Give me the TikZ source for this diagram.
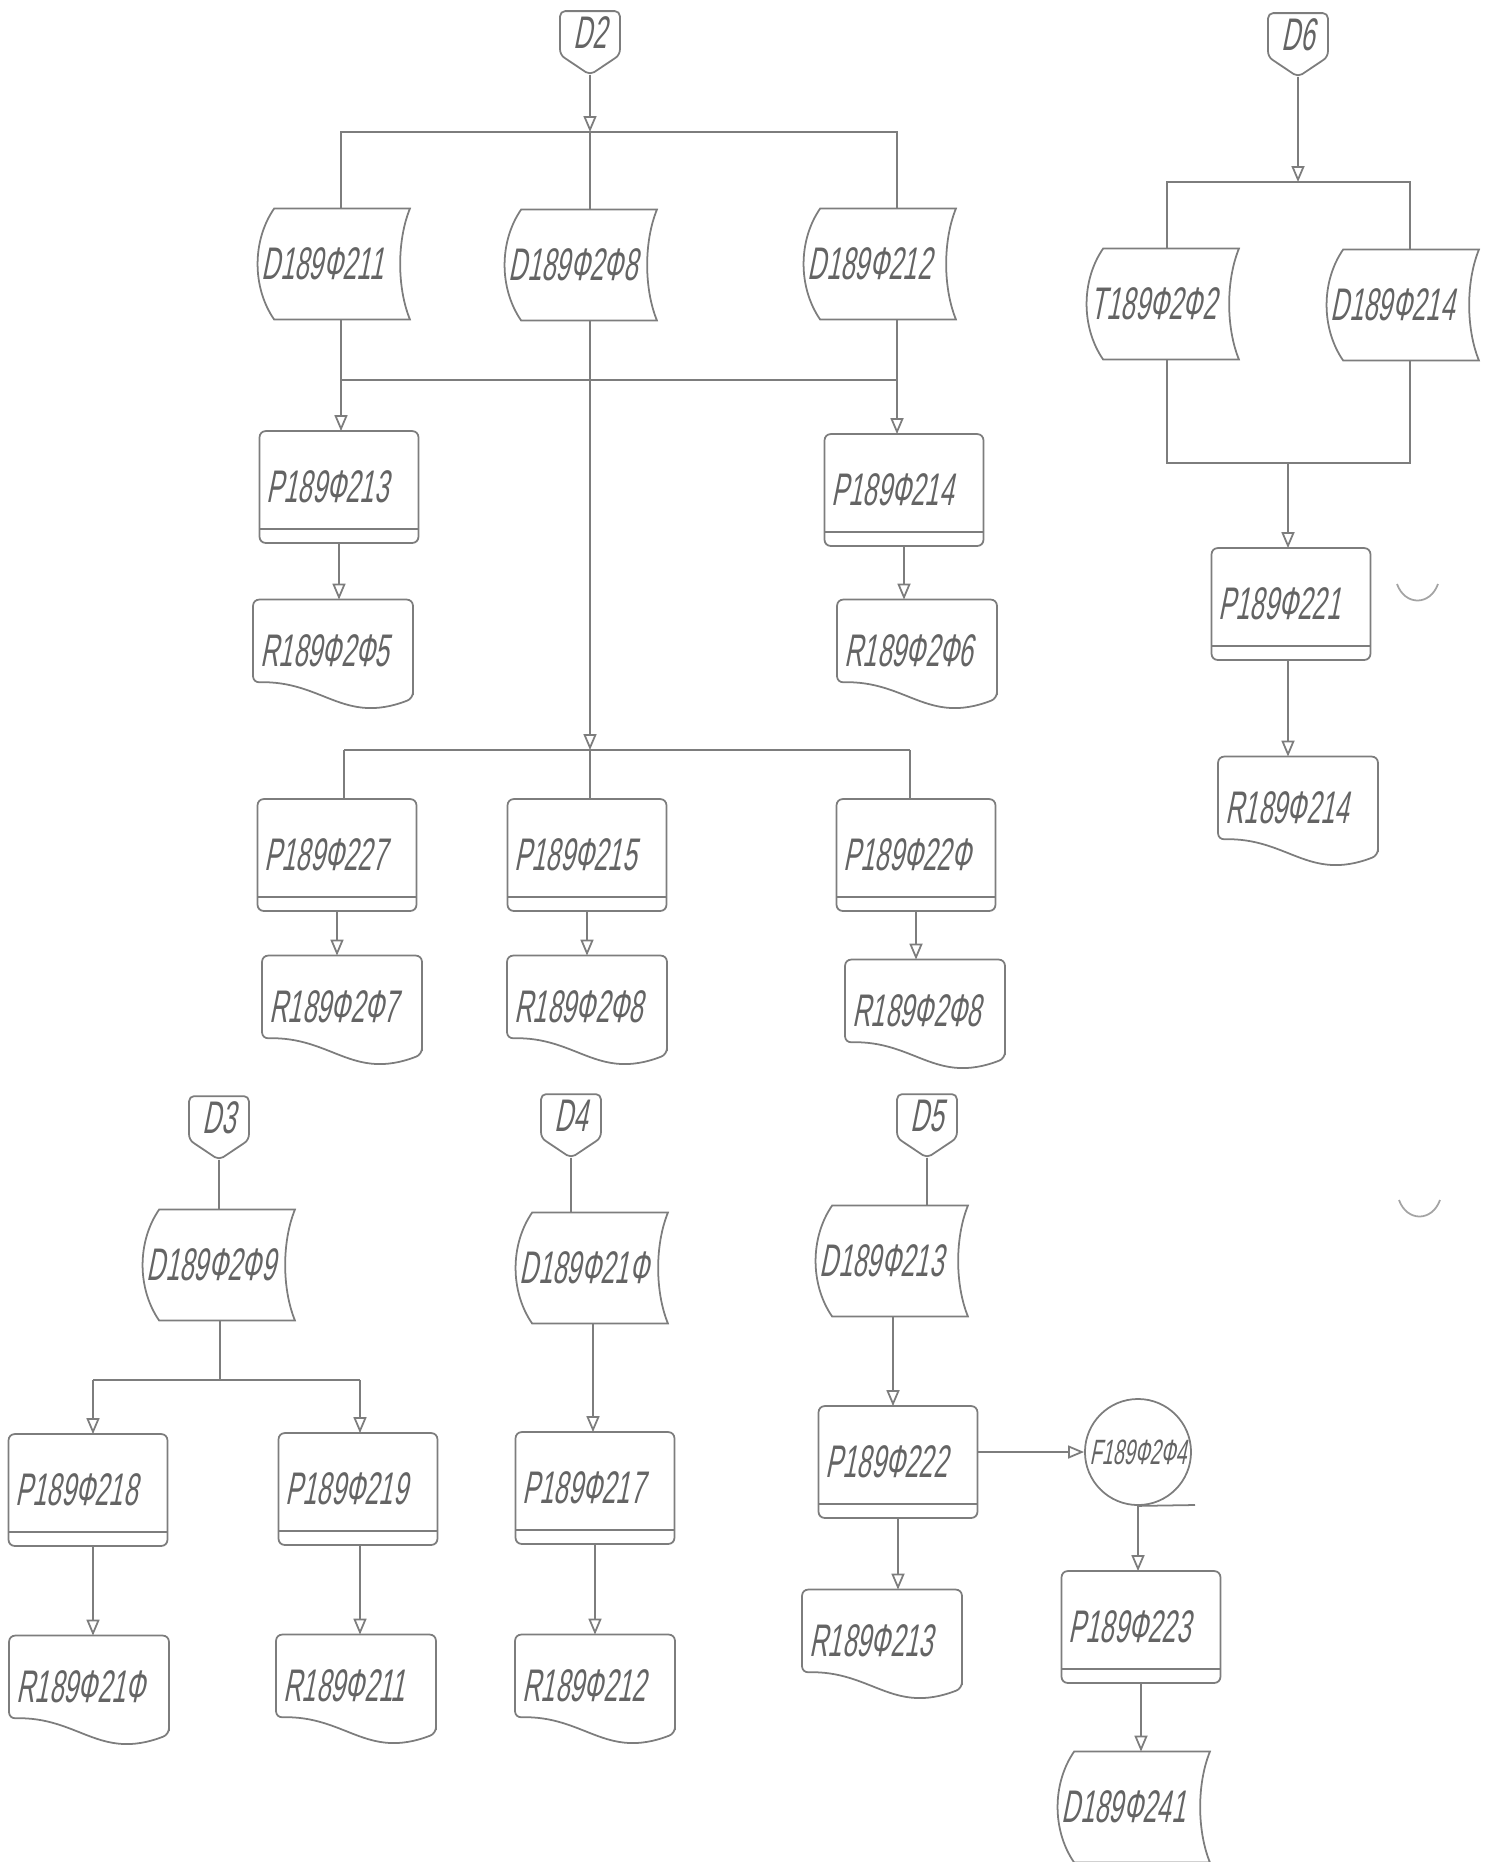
\documentclass[tikz,border=0pt]{standalone}
\usepackage{fontspec}
\usetikzlibrary{arrows.meta}
\newfontfamily\handfont[FakeStretch=0.56,FakeSlant=0.2]{Liberation Sans}
\definecolor{pencil}{RGB}{125,125,125}
\definecolor{graphite}{RGB}{100,100,100}

% stored data: name, centre, text
\newcommand{\flstore}[3]{%
  \node[txt, minimum width=1.54cm, minimum height=1.09cm] (#1) at (#2) {\makebox[1.46cm][l]{#3}};
  \draw ([xshift=.17cm]#1.north west) -- ([xshift=-.03cm]#1.north east)
    .. controls ([xshift=-.16cm,yshift=-.32cm]#1.north east) and ([xshift=-.16cm,yshift=.32cm]#1.south east) .. ([xshift=-.03cm]#1.south east)
    -- ([xshift=.17cm]#1.south west)
    .. controls ([xshift=-.05cm,yshift=.32cm]#1.south west) and ([xshift=-.05cm,yshift=-.32cm]#1.north west) .. cycle;}
% process: name, centre, text
\newcommand{\flproc}[3]{%
  \node[txt, minimum width=1.57cm, minimum height=1.1cm] (#1) at (#2) {\makebox[1.45cm][l]{#3}};
  \draw[rounded corners=.06cm] (#1.north west) rectangle (#1.south east);
  \draw ([yshift=.14cm]#1.south west) -- ([yshift=.14cm]#1.south east);}
% document: name, centre, text
\newcommand{\flrep}[3]{%
  \node[txt, minimum width=1.58cm, minimum height=1.09cm] (#1) at (#2) {\raisebox{.08cm}{\makebox[1.45cm][l]{#3}}};
  \draw[rounded corners=.06cm] ([yshift=.12cm]#1.south east) -- (#1.north east) -- (#1.north west) -- ([yshift=.28cm]#1.south west)
    .. controls ([xshift=.7cm,yshift=.3cm]#1.south west) and ([xshift=.9cm,yshift=-.15cm]#1.south west) .. cycle;}
% off-page connector: name, centre, text
\newcommand{\flconn}[3]{%
  \node[txt, font=\handfont\fontsize{13}{15}\selectfont, minimum width=.58cm, minimum height=.42cm] (#1) at (#2) {#3};
  \draw[rounded corners=.05cm] (#1.south west) -- (#1.north west) -- (#1.north east) -- (#1.south east) -- ([yshift=-.2cm]#1.south) -- cycle;
  \coordinate (#1-tip) at ([yshift=-.2cm]#1.south);}

\begin{document}
\begin{tikzpicture}[x=0.01cm, y=-0.01cm, color=pencil, line width=.5pt,
    >={Triangle[open,length=1.6mm,width=1.3mm]},
    txt/.style={font=\handfont\fontsize{13}{15}\selectfont, text=graphite, inner sep=0pt}]
  \useasboundingbox (0,0) rectangle (1495,1862);

  % D2 block
  \flconn{d2}{590,33}{D2}
  \flstore{s211}{335,264}{D189Ф211}
  \flstore{s208}{582,265}{D189Ф2Ф8}
  \flstore{s212}{881,264}{D189Ф212}
  \flproc{p213}{339,487}{P189Ф213}
  \flproc{p214}{904,490}{P189Ф214}
  \flrep{r205}{333,655}{R189Ф2Ф5}
  \flrep{r206}{917,655}{R189Ф2Ф6}
  \flproc{p227}{337,855}{P189Ф227}
  \flproc{p215}{587,855}{P189Ф215}
  \flproc{p220}{916,855}{P189Ф22Ф}
  \flrep{r207}{342,1011}{R189Ф2Ф7}
  \flrep{r208a}{587,1011}{R189Ф2Ф8}
  \flrep{r208b}{925,1015}{R189Ф2Ф8}
  \coordinate (b1) at (590,132);
  \coordinate (b1l) at (341,132);
  \coordinate (b1r) at (897,132);
  \coordinate (b2l) at (341,380);
  \coordinate (b2r) at (897,380);
  \coordinate (b3) at (590,750);
  \coordinate (b3l) at (344,750);
  \coordinate (b3r) at (910,750);
  \draw[->] (d2-tip) -- (b1);
  \draw (s211.north -| b1l) -- (b1l) -- (b1r) -- (s212.north -| b1r);
  \draw (b1) -- (s208.north -| b1);
  \draw (s211.south -| b2l) -- (b2l) -- (b2r) -- (s212.south -| b2r);
  \draw[->] (b2l) -- (p213.north -| b2l);
  \draw[->] (b2r) -- (p214.north -| b2r);
  \draw[->] (p213.south) -- (p213.south |- r205.north);
  \draw[->] (p214.south) -- (p214.south |- r206.north);
  \draw[->] (s208.south -| b3) -- (b3);
  \draw (b3l) -- (b3r);
  \draw (b3l) -- (p227.north -| b3l);
  \draw (b3) -- (p215.north -| b3);
  \draw (b3r) -- (p220.north -| b3r);
  \draw[->] (p227.south) -- (p227.south |- r207.north);
  \draw[->] (p215.south) -- (p215.south |- r208a.north);
  \draw[->] (p220.south) -- (p220.south |- r208b.north);

  % D6 block
  \flconn{d6}{1298,35}{D6}
  \flstore{t202}{1164,304}{T189Ф2Ф2}
  \flstore{s214}{1404,305}{D189Ф214}
  \flproc{p221}{1291,604}{P189Ф221}
  \flrep{r214}{1298,812}{R189Ф214}
  \coordinate (b6) at (1298,182);
  \coordinate (b6l) at (1167,182);
  \coordinate (b6r) at (1410,182);
  \coordinate (b7) at (1288,463);
  \coordinate (b7l) at (1167,463);
  \coordinate (b7r) at (1410,463);
  \draw[->] (d6-tip) -- (b6);
  \draw (t202.north -| b6l) -- (b6l) -- (b6r) -- (s214.north -| b6r);
  \draw (t202.south -| b7l) -- (b7l) -- (b7r) -- (s214.south -| b7r);
  \draw[->] (b7) -- (p221.north -| b7);
  \draw[->] (p221.south -| b7) -- (r214.north -| b7);

  % D3 block
  \flconn{d3}{219,1118}{D3}
  \flstore{s209}{220,1265}{D189Ф2Ф9}
  \flproc{p218}{88,1490}{P189Ф218}
  \flproc{p219}{358,1489}{P189Ф219}
  \flrep{r210}{89,1691}{R189Ф21Ф}
  \flrep{r211}{356,1690}{R189Ф211}
  \coordinate (b8) at (220,1380);
  \coordinate (b8l) at (93,1380);
  \coordinate (b8r) at (360,1380);
  \draw (d3-tip) -- (d3-tip |- s209.north);
  \draw (s209.south -| b8) -- (b8);
  \draw (b8l) -- (b8r);
  \draw[->] (b8l) -- (p218.north -| b8l);
  \draw[->] (b8r) -- (p219.north -| b8r);
  \draw[->] (p218.south -| b8l) -- (r210.north -| b8l);
  \draw[->] (p219.south -| b8r) -- (r211.north -| b8r);

  % D4 block
  \flconn{d4}{571,1116}{D4}
  \flstore{s210}{593,1268}{D189Ф21Ф}
  \flproc{p217}{595,1488}{P189Ф217}
  \flrep{r212}{595,1690}{R189Ф212}
  \draw (d4-tip) -- (d4-tip |- s210.north);
  \draw[->] (s210.south) -- (s210.south |- p217.north);
  \draw[->] (p217.south) -- (p217.south |- r212.north);

  % D5 block
  \flconn{d5}{927,1116}{D5}
  \flstore{s213}{893,1261}{D189Ф213}
  \flproc{p222}{898,1462}{P189Ф222}
  \flrep{r213}{882,1645}{R189Ф213}
  \node[txt, font=\handfont\fontsize{10}{12}\selectfont, circle, draw=pencil, minimum size=1.06cm] (f204) at (1138,1452) {F189Ф2Ф4};
  \flproc{p223}{1141,1627}{P189Ф223}
  \flstore{s241}{1135,1807}{D189Ф241}
  \coordinate (stub) at (1195,1505);
  \draw (d5-tip) -- (d5-tip |- s213.north);
  \draw[->] (s213.south) -- (s213.south |- p222.north);
  \draw[->] (p222.south) -- (p222.south |- r213.north);
  \draw[->] (f204.west -| p222.east) -- (f204.west);
  \draw (f204.south) -- (stub);
  \draw[->] (f204.south) -- (f204.south |- p223.north);
  \draw[->] (p223.south) -- (p223.south |- s241.north);

  % binder marks
  \draw[pencil!70] (1397,584) .. controls (1405,606) and (1430,606) .. (1438,584);
  \draw[pencil!70] (1399,1200) .. controls (1407,1222) and (1432,1222) .. (1440,1200);
\end{tikzpicture}
\end{document}
